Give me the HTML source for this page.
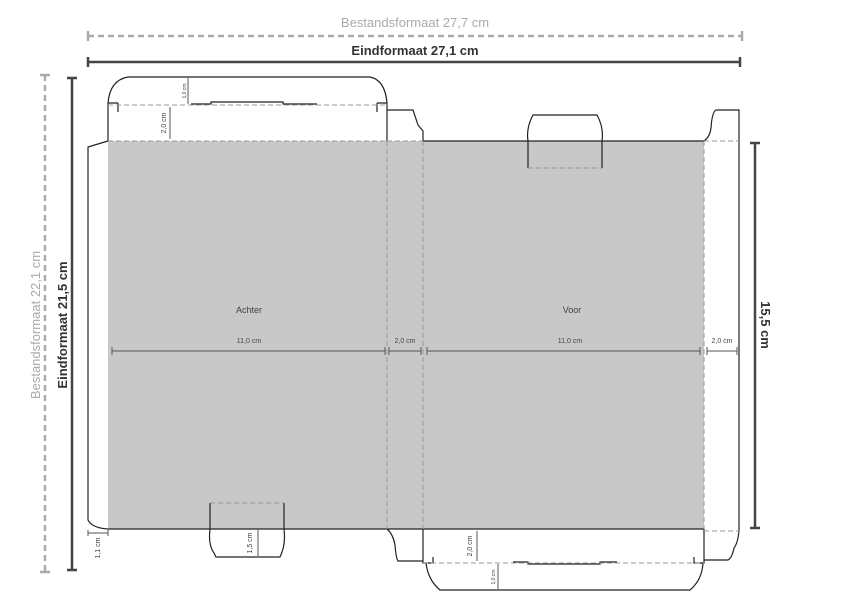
<!DOCTYPE html>
<html><head><style>body{margin:0;background:#fff}svg{display:block;font-family:"Liberation Sans",sans-serif}</style></head><body>
<svg width="842" height="595" viewBox="0 0 842 595" xmlns="http://www.w3.org/2000/svg">
<rect x="108" y="141" width="596" height="388" fill="#c8c8c9"/>
<g fill="none" stroke="#222" stroke-width="1.2">
<!-- left glue flap -->
<path d="M108 141 L88 147 L88 520 Q92 528 108 529"/>
<!-- top flap achter -->
<path d="M108 141 L108 103 Q110 80 128 77 L370 77 Q385 80 387 103 L387 141"/>
<path d="M118 103 L108 103 M118 103 L118 112 M377 103 L387 103 M377 103 L377 112"/>
<path d="M191 104 L211 104 L211 102 L283 102 L283 104 L317 104"/>
<!-- spine top -->
<path d="M387 110 L413 110 L418 125 L423 131 L423 141"/>
<path d="M423 141 L704 141"/>
<!-- voor tuck -->
<path d="M528 168 L528 141 Q526 128 533 115 L597 115 Q604 128 602 141 L602 168"/>
<!-- right flap -->
<path d="M704 141 Q710 137 711 128 Q712 112 716 110 L739 110 L739 530 Q738 543 734 548 Q732 558 728 560 L704 560"/>
<!-- bottom line -->
<path d="M108 529 L704 529"/>
<!-- spine bottom -->
<path d="M387 529 Q393 534 395 545 Q396 558 398 561 L423 561"/>
<!-- voor bottom -->
<path d="M423 529 L423 563 L433 563 L433 557 M704 529 L704 563 L694 563 L694 557"/>
<path d="M426 563 Q428 580 440 590 L690 590 Q702 580 703 563"/>
<path d="M513 562 L528 562 L528 564 L600 564 L600 562 L617 562"/>
<!-- achter bottom tuck -->
<path d="M210 503 L210 529 Q208 545 214 553 L216 557 L280 557 Q286 545 284 529 L284 503"/>
</g>
<g fill="none" stroke="#999" stroke-width="1" stroke-dasharray="5 3">
<path d="M108 105 L387 105 M108 141 L387 141 M387 141 L387 529 M423 141 L423 529 M704 141 L739 141 M704 141 L704 529 M704 531 L739 531 M423 563 L704 563 M528 168 L602 168 M210 503 L284 503 M387 141 L423 141"/>
</g>
<g stroke="#555" stroke-width="1" fill="none">
<path d="M112 351 L385 351 M389 351 L421 351 M427 351 L700 351 M707 351 L737 351"/>
<path d="M112 347 v8 M385 347 v8 M389 347 v8 M421 347 v8 M427 347 v8 M700 347 v8 M707 347 v8 M737 347 v8"/>
<path d="M188 78 L188 104 M170 107 L170 139 M258 530 L258 556 M477 531 L477 561 M498 564 L498 589"/>
<path d="M88 533 L108 533 M88 530 v6 M108 530 v6"/>
</g>
<!-- big dims -->
<g stroke="#aaa" stroke-width="2.5" fill="none">
<path d="M88 36 L742 36" stroke-dasharray="6 4"/>
<path d="M88 31 v10 M742 31 v10" stroke-dasharray="none"/>
<path d="M45 75 L45 572" stroke-dasharray="6 4"/>
<path d="M40 75 h10 M40 572 h10"/>
</g>
<g stroke="#444" stroke-width="2.5" fill="none">
<path d="M88 62 L740 62 M88 57 v10 M740 57 v10"/>
<path d="M72 78 L72 570 M67 78 h10 M67 570 h10"/>
<path d="M755 143 L755 528 M750 143 h10 M750 528 h10"/>
</g>
<g font-size="13">
<text x="415" y="27" text-anchor="middle" fill="#aaa">Bestandsformaat 27,7 cm</text>
<text x="415" y="55" text-anchor="middle" fill="#333" font-weight="bold">Eindformaat 27,1 cm</text>
<text transform="translate(40 325) rotate(-90)" text-anchor="middle" fill="#aaa">Bestandsformaat 22,1 cm</text>
<text transform="translate(67 325) rotate(-90)" text-anchor="middle" fill="#333" font-weight="bold">Eindformaat 21,5 cm</text>
<text transform="translate(761 325) rotate(90)" text-anchor="middle" fill="#333" font-weight="bold">15,5 cm</text>
</g>
<g font-size="9" fill="#444" text-anchor="middle">
<text x="249" y="313">Achter</text>
<text x="572" y="313">Voor</text>
</g>
<g font-size="7" fill="#444" text-anchor="middle">
<text x="249" y="343">11,0 cm</text>
<text x="405" y="343">2,0 cm</text>
<text x="570" y="343">11,0 cm</text>
<text x="722" y="343">2,0 cm</text>
<text transform="translate(186 91) rotate(-90)" font-size="5">1,0 cm</text>
<text transform="translate(166 123) rotate(-90)">2,0 cm</text>
<text transform="translate(100 548) rotate(-90)">1,1 cm</text>
<text transform="translate(252 543) rotate(-90)">1,5 cm</text>
<text transform="translate(472 546) rotate(-90)">2,0 cm</text>
<text transform="translate(495 577) rotate(-90)" font-size="5">1,0 cm</text>
</g>
</svg>
</body></html>
